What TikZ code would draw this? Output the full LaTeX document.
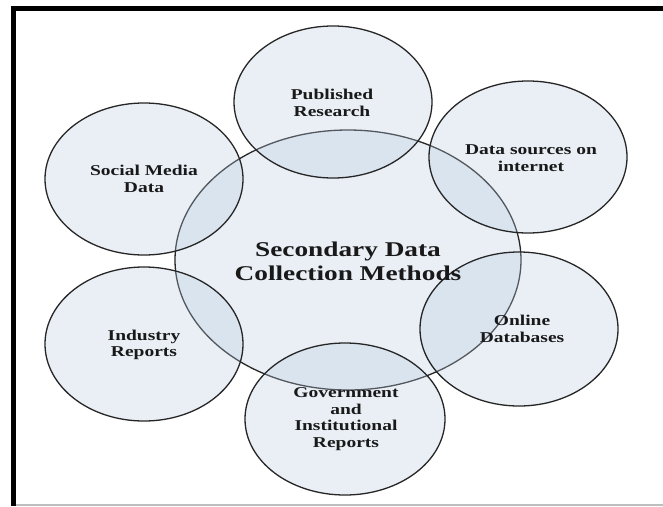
\documentclass[tikz,border=0pt]{standalone}
\usepackage{fontspec}
\setmainfont{Liberation Serif}
\newfontfamily\lblfont[FakeStretch=1.3]{Liberation Serif}
\definecolor{bubble}{RGB}{185,205,225}
\definecolor{framegray}{RGB}{190,190,190}
\begin{document}
\begin{tikzpicture}[x=1pt,y=-1pt,
  bub/.style={draw=black!85,line width=1.3pt,fill=bubble,fill opacity=0.3},
  small/.style={align=center,font=\lblfont\bfseries\fontsize{15}{16.5}\selectfont,text=black!90},
  big/.style={align=center,font=\lblfont\bfseries\fontsize{21}{24}\selectfont,text=black!90}]
\useasboundingbox (0,0) rectangle (663,506);
\fill[white] (0,0) rectangle (663,506);
% frame
\draw[framegray,line width=1.5pt] (16,505) -- (663,505);
\draw[black,line width=5pt] (13.5,506) -- (13.5,8.5) -- (663,8.5);
% bubbles
\path[bub] (348,260) ellipse [x radius=173,y radius=130];
\path[bub] (333,102) ellipse [x radius=99,y radius=76];
\path[bub] (528,157) ellipse [x radius=99,y radius=76];
\path[bub] (144,179) ellipse [x radius=99,y radius=76];
\path[bub] (144,344) ellipse [x radius=99,y radius=77];
\path[bub] (519,329) ellipse [x radius=99,y radius=77];
\path[bub] (345,419) ellipse [x radius=100,y radius=76];
% labels
\node[big] (center) at (348,261) {Secondary Data\\Collection Methods};
\node[small] (pub) at (332,103) {Published\\Research};
\node[small] (web) at (531,158) {Data sources on\\internet};
\node[small] (soc) at (144,179) {Social Media\\Data};
\node[small] (ind) at (144,345) {Industry\\Reports};
\node[small] (onl) at (522,329) {Online\\Databases};
\node[small] (gov) at (346,419) {Government\\and\\Institutional\\Reports};
\end{tikzpicture}
\end{document}
